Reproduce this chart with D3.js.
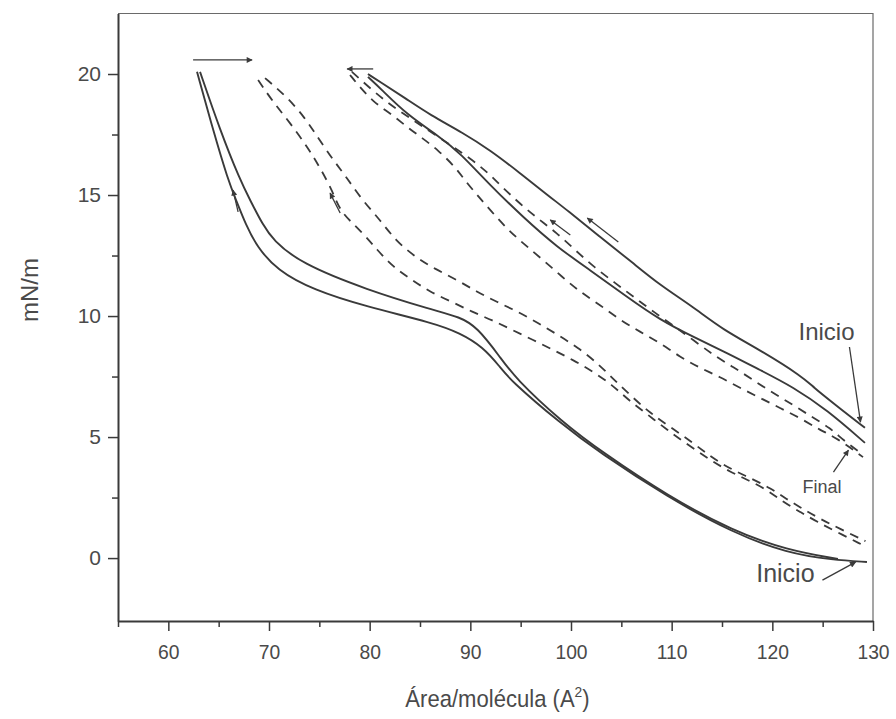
<!DOCTYPE html>
<html>
<head>
<meta charset="utf-8">
<script src="https://cdn.jsdelivr.net/npm/d3@7"></script>
<style>
  html, body { margin: 0; padding: 0; background: #fff; }
  svg { display: block; }
  text { font-family: "Liberation Sans", Arial, sans-serif; fill: #4a4a4a; }
</style>
</head>
<body>
<svg id="chart" width="896" height="719"></svg>
<script>
// ---- data (Área/molécula in Å², presión superficial in mN/m) ----
const xMajorTicks = [60, 70, 80, 90, 100, 110, 120, 130];
const xMinorTicks = [55, 65, 75, 85, 95, 105, 115, 125];
const yMajorTicks = [0, 5, 10, 15, 20];
const yMinorTicks = [2.5, 7.5, 12.5, 17.5];

// solid loop 1 (low-pressure cycle)
const solidLowOuter = [[62.85,20.09],[64.44,17.69],[65.93,15.62],[66.72,14.80],[67.71,13.76],[68.81,12.86],[70.79,11.90],[74.37,11.08],[79.73,10.38],[86.29,9.72],[88.97,9.30],[91.26,8.72],[92.95,7.90],[93.94,7.36],[98.91,5.58],[102.89,4.34],[109.54,2.53],[116.09,1.04],[121.46,0.21],[126.02,-0.08],[129.40,-0.16]];
const solidLowInner = [[63.15,20.09],[65.13,17.69],[67.12,15.62],[68.11,14.80],[69.40,13.76],[70.40,13.14],[73.08,12.19],[79.73,11.08],[86.29,10.25],[88.97,9.96],[90.66,9.55],[92.95,8.31],[94.44,7.44],[99.11,5.62],[103.08,4.38],[109.63,2.56],[116.09,1.12],[121.46,0.33],[126.52,-0.04]];

// solid loop 2 (high-area cycle)
const solidHighUpper = [[79.83,20.00],[81.03,19.67],[83.51,19.01],[86.00,18.31],[89.27,17.57],[91.95,16.86],[94.93,15.91],[97.91,14.92],[99.60,14.38],[102.88,13.27],[106.16,12.19],[108.84,11.28],[112.12,10.38],[115.10,9.43],[118.78,8.60],[123.05,7.48],[124.04,7.07],[126.03,6.41],[129.20,5.38]];
const solidHighLower = [[79.83,19.88],[81.03,19.42],[83.71,18.31],[86.99,17.40],[88.97,16.74],[91.95,15.41],[95.23,14.09],[98.61,12.85],[101.89,11.90],[105.56,10.79],[108.84,9.84],[112.12,9.14],[115.50,8.48],[118.78,7.77],[122.06,7.07],[125.43,6.12],[129.20,4.76]];

// dashed loop A
const dashedA1 = [[68.92,19.75],[70.41,18.84],[72.10,17.98],[73.89,16.94],[75.08,16.12],[76.37,15.12],[77.07,14.30],[79.06,13.55],[80.75,12.73],[82.34,12.02],[84.22,11.49],[86.01,10.99],[88.20,10.58],[90.19,10.17],[92.18,9.83],[94.17,9.42],[96.25,9.01],[98.24,8.60],[100.23,8.18],[102.22,7.69],[104.11,7.15],[105.70,6.53],[107.68,5.91],[109.57,5.29],[111.66,4.67],[113.85,4.05],[115.84,3.55],[117.62,3.22],[119.51,2.81],[121.10,2.31],[122.79,1.90],[124.48,1.49],[126.47,1.07],[128.96,0.54]];
const dashedA2 = [[69.61,19.83],[71.80,19.05],[73.59,18.18],[74.88,17.36],[76.37,16.45],[77.76,15.70],[79.25,14.79],[81.04,13.97],[82.53,13.14],[84.52,12.44],[86.51,11.94],[88.70,11.49],[90.69,10.99],[92.67,10.58],[94.76,10.17],[96.75,9.71],[98.74,9.21],[100.73,8.68],[102.61,8.06],[104.20,7.40],[106.09,6.65],[107.88,5.99],[109.87,5.41],[112.16,4.75],[114.05,4.13],[116.04,3.64],[117.82,3.31],[119.81,2.89],[121.40,2.44],[123.09,2.02],[124.78,1.61],[126.77,1.20],[129.25,0.70]];

// dashed loop B
const dashedB1 = [[78.24,20.09],[80.23,19.34],[81.82,18.81],[83.51,18.31],[87.28,17.28],[90.96,16.24],[92.75,15.50],[94.73,14.71],[96.62,14.05],[98.61,13.43],[100.40,12.73],[102.38,11.99],[104.37,11.37],[106.36,10.75],[108.34,10.13],[110.53,9.51],[114.11,8.39],[116.09,7.90],[118.08,7.36],[120.07,6.82],[122.05,6.33],[123.94,5.83],[125.73,5.38],[127.02,4.88],[128.91,4.30]];
const dashedB2 = [[78.05,19.96],[78.84,19.55],[80.33,18.85],[82.02,18.39],[83.71,17.81],[85.20,17.36],[86.79,16.86],[88.48,16.16],[89.27,15.71],[90.66,15.00],[92.15,14.30],[93.74,13.56],[95.43,12.94],[97.22,12.32],[99.11,11.62],[100.89,11.00],[102.88,10.46],[104.87,9.84],[106.85,9.35],[108.84,8.89],[110.83,8.31],[112.81,7.86],[114.80,7.48],[116.79,7.03],[118.78,6.62],[120.76,6.20],[122.75,5.79],[124.73,5.29],[126.42,4.96],[129.01,4.17]];

// direction arrows [x1, y1, x2, y2]
const arrows = [
  [62.46,20.58,68.32,20.58],
  [80.35,20.21,77.76,20.21],
  [66.93,14.30,66.43,15.20],
  [77.07,14.26,76.07,15.08],
  [104.70,13.06,101.62,14.05],
  [99.93,13.35,97.94,13.97],
  [127.66,8.72,128.76,5.62],
  [126.07,3.55,127.56,4.46],
  [124.98,-0.91,128.26,-0.17]
];
// annotation labels [text, x, y, size]
const labels = [
  ["Inicio", 122.6, 9.0, 24],
  ["Final", 123.0, 2.69, 18],
  ["Inicio", 118.4, -0.99, 25]
];

// ---- drawing ----
const svg = d3.select("#chart");
const W = 896, H = 719;
svg.append("rect").attr("width", W).attr("height", H).attr("fill", "#fff");

const x = d3.scaleLinear().domain([55, 130]).range([118, 873]);
const y = d3.scaleLinear().domain([-2.6, 22.5]).range([621, 13.5]);

const ink = "#3a3a3a";

// frame (top & right)
svg.append("path")
  .attr("d", `M${x(55)},${y(22.5)}H${x(130)}V${y(-2.6)}`)
  .attr("fill", "none").attr("stroke", "#6a6a6a").attr("stroke-width", 1.2);

// x axis
const gx = svg.append("g").attr("transform", `translate(0,${y(-2.6)})`);
gx.call(d3.axisBottom(x).tickValues(xMinorTicks).tickSize(6).tickSizeOuter(0).tickFormat(""));
gx.call(g => g.select(".domain").remove());
const gx2 = svg.append("g").attr("transform", `translate(0,${y(-2.6)})`);
gx2.call(d3.axisBottom(x).tickValues(xMajorTicks).tickSize(10).tickSizeOuter(0).tickPadding(13).tickFormat(d3.format("d")));
[gx, gx2].forEach(g => {
  g.selectAll(".tick line").attr("stroke", ink).attr("stroke-width", 1.5);
});
gx2.select(".domain").attr("stroke", ink).attr("stroke-width", 2);
gx2.selectAll("text").attr("font-size", 21).attr("transform", "scale(0.92,1)").style("fill", "#4a4a4a");

// y axis
const gy = svg.append("g").attr("transform", `translate(${x(55)},0)`);
gy.call(d3.axisLeft(y).tickValues(yMinorTicks).tickSize(6).tickSizeOuter(0).tickFormat(""));
gy.call(g => g.select(".domain").remove());
const gy2 = svg.append("g").attr("transform", `translate(${x(55)},0)`);
gy2.call(d3.axisLeft(y).tickValues(yMajorTicks).tickSize(10).tickSizeOuter(0).tickPadding(7).tickFormat(d3.format("d")));
[gy, gy2].forEach(g => {
  g.selectAll(".tick line").attr("stroke", ink).attr("stroke-width", 1.5);
});
gy2.select(".domain").attr("stroke", ink).attr("stroke-width", 2);
gy2.selectAll("text").attr("font-size", 21).style("fill", "#4a4a4a");

// axis titles
svg.append("text")
  .attr("transform", `translate(38,290) rotate(-90)`)
  .attr("text-anchor", "middle").attr("font-size", 24)
  .text("mN/m");
const xt = svg.append("g")
  .attr("transform", `translate(${(x(55) + x(130)) / 2 + 2},707) scale(0.92,1)`)
  .append("text")
  .attr("text-anchor", "middle").attr("font-size", 24);
xt.append("tspan").text("Área/molécula (A");
xt.append("tspan").attr("font-size", 15).attr("dy", -10).text("2");
xt.append("tspan").attr("dy", 10).text(")");

// curves
const line = d3.line().x(d => x(d[0])).y(d => y(d[1])).curve(d3.curveBasis);
const plot = svg.append("g");
[solidLowOuter, solidLowInner, solidHighUpper, solidHighLower].forEach(s => {
  plot.append("path").attr("d", line(s)).attr("fill", "none")
    .attr("stroke", ink).attr("stroke-width", 1.9).attr("stroke-linejoin", "round");
});
[dashedA1, dashedA2, dashedB1, dashedB2].forEach(s => {
  plot.append("path").attr("d", line(s)).attr("fill", "none")
    .attr("stroke", ink).attr("stroke-width", 1.8).attr("stroke-dasharray", "9,7");
});

// arrow marker
svg.append("defs").append("marker")
  .attr("id", "ah").attr("viewBox", "0 0 10 10").attr("refX", 9).attr("refY", 5)
  .attr("markerWidth", 9).attr("markerHeight", 6).attr("markerUnits", "userSpaceOnUse")
  .attr("orient", "auto")
  .append("path").attr("d", "M0,0L10,5L0,10z").attr("fill", ink);

plot.selectAll("line.arrow").data(arrows).join("line")
  .attr("class", "arrow")
  .attr("x1", d => x(d[0])).attr("y1", d => y(d[1]))
  .attr("x2", d => x(d[2])).attr("y2", d => y(d[3]))
  .attr("stroke", ink).attr("stroke-width", 1.3)
  .attr("marker-end", "url(#ah)");

plot.selectAll("text.lab").data(labels).join("text")
  .attr("class", "lab")
  .attr("x", d => x(d[1])).attr("y", d => y(d[2]))
  .attr("font-size", d => d[3])
  .text(d => d[0]);
</script>
</body>
</html>
